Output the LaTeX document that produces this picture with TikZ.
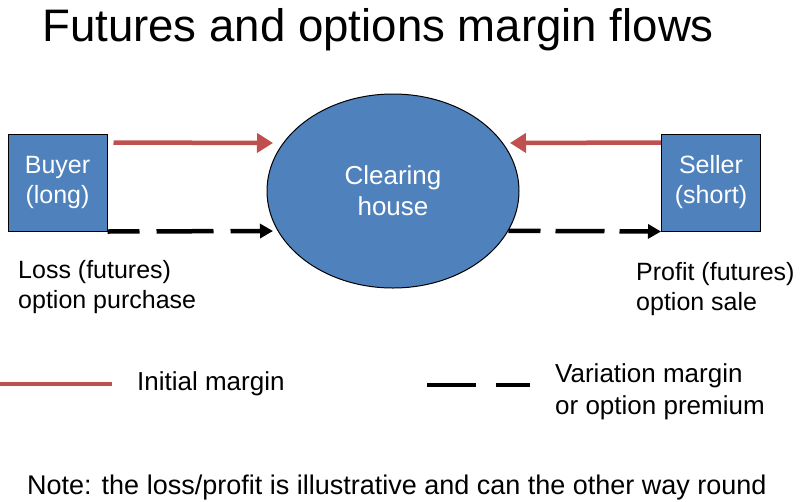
\documentclass[tikz,border=0pt]{standalone}
\usepackage{fontspec}
\setmainfont{Liberation Sans}
\usetikzlibrary{arrows.meta,shapes.geometric,calc}
\definecolor{boxblue}{HTML}{4F81BD}
\definecolor{imred}{HTML}{C0504D}
\tikzset{
  party/.style={draw=black,line width=1pt,fill=boxblue,text=white,minimum width=99pt,minimum height=97pt,inner sep=0pt,align=center,font=\fontsize{25}{30}\selectfont},
  house/.style={ellipse,draw=black,line width=1pt,fill=boxblue,text=white,minimum width=252pt,minimum height=194pt,inner sep=0pt,align=center,font=\fontsize{26}{31}\selectfont},
  label/.style={inner sep=0pt,anchor=base west,align=left},
  redflow/.style={draw=imred,line width=4.5pt,-{Triangle[length=16pt,width=19pt]}},
  blackflow/.style={draw=black,line width=4.5pt,-{Triangle[length=13pt,width=14pt]}},
  redkey/.style={draw=imred,line width=4.5pt},
  blackkey/.style={draw=black,line width=4.5pt,dash pattern=on 49pt off 20pt}
}
\begin{document}
\begin{tikzpicture}[x=1pt,y=-1pt]
\useasboundingbox (0,0) rectangle (800,501);
\node[inner sep=0pt,anchor=base west,font=\fontsize{45.6}{54}\selectfont] (title) at (42,41) {Futures and options margin flows};
\node[party] (buyer) at (57.5,182.5) {Buyer\\(long)};
\node[party] (seller) at (711,182.5) {Seller\\(short)};
\node[house] (ch) at (393,191) {Clearing\\house};
\coordinate (r1e) at (273,143);
\coordinate (r2e) at (510,143);
\coordinate (b1e) at (273,231);
\draw[redflow] ($(buyer.north east)+(6,9)$) -- (r1e);
\draw[redflow] ($(seller.north west)+(0,9)$) -- (r2e);
\draw[blackflow,dash pattern=on 57pt off 17pt,dash phase=25pt] (buyer.south east) -- (b1e);
\draw[blackflow,dash pattern=on 49pt off 15pt,dash phase=17pt] (ch.{-19}) -- (seller.south west);
\node[label,font=\fontsize{25}{30}\selectfont] (loss) at (18,308) {Loss (futures)\\option purchase};
\node[label,font=\fontsize{25}{30}\selectfont] (profit) at (636,310) {Profit (futures)\\option sale};
\coordinate (k1a) at (0,384);
\coordinate (k1b) at (112,384);
\draw[redkey] (k1a) -- (k1b);
\node[label,font=\fontsize{26}{32}\selectfont] (initial) at (137,390) {Initial margin};
\coordinate (k2a) at (427,385);
\coordinate (k2b) at (530,385);
\draw[blackkey] (k2a) -- (k2b);
\node[label,font=\fontsize{26}{32}\selectfont] (variation) at (555,414) {Variation margin\\or option premium};
\node[label,font=\fontsize{27}{32}\selectfont] (note) at (27,494) {Note: the loss/profit is illustrative and can the other way round};
\end{tikzpicture}
\end{document}
